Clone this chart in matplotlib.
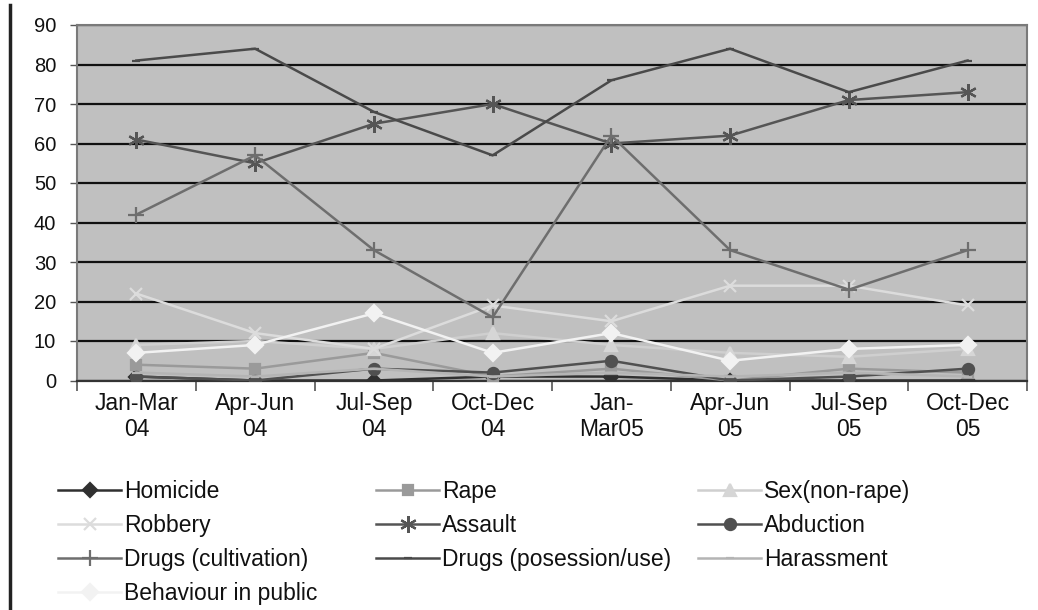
import matplotlib
matplotlib.use("Agg")
import matplotlib.pyplot as plt
from matplotlib.lines import Line2D

plt.rcParams['font.family'] = ['Liberation Sans', 'DejaVu Sans']

categories = ["Jan-Mar\n04", "Apr-Jun\n04", "Jul-Sep\n04", "Oct-Dec\n04",
              "Jan-\nMar05", "Apr-Jun\n05", "Jul-Sep\n05", "Oct-Dec\n05"]

homicide = [1, 0, 0, 1, 1, 0, 0, 0]
rape = [4, 3, 7, 1, 3, 0, 3, 2]
sex_non_rape = [9, 10, 8, 12, 9, 7, 6, 8]
robbery = [22, 12, 8, 19, 15, 24, 24, 19]
assault = [61, 55, 65, 70, 60, 62, 71, 73]
abduction = [1, 0, 3, 2, 5, 0, 1, 3]
drugs_cultivation = [42, 57, 33, 16, 62, 33, 23, 33]
drugs_possession = [81, 84, 68, 57, 76, 84, 73, 81]
harassment = [2, 1, 3, 1, 2, 1, 2, 1]
behaviour_public = [7, 9, 17, 7, 12, 5, 8, 9]

yticks = [0, 10, 20, 30, 40, 50, 60, 70, 80, 90]

W, H = 1038, 610
fig = plt.figure(figsize=(W / 100, H / 100), dpi=100)
ax = fig.add_axes([77 / W, 1 - 380.5 / H, (1027 - 77) / W, (380.5 - 25) / H])
ax.set_facecolor('#C0C0C0')

x = list(range(len(categories)))
series = [
    ("Homicide", homicide, '#303030', 'D', 7, '#303030'),
    ("Rape", rape, '#9A9A9A', 's', 7, '#9A9A9A'),
    ("Sex(non-rape)", sex_non_rape, '#CFCFCF', '^', 8, '#D6D6D6'),
    ("Robbery", robbery, '#DCDCDC', 'x', 9, '#DCDCDC'),
    ("Assault", assault, '#555555', (6, 2, 0), 12, '#555555'),
    ("Abduction", abduction, '#505050', 'o', 8, '#505050'),
    ("Drugs (cultivation)", drugs_cultivation, '#6E6E6E', '+', 12, '#6E6E6E'),
    ("Drugs (posession/use)", drugs_possession, '#4A4A4A', '_', 6, '#4A4A4A'),
    ("Harassment", harassment, '#B4B4B4', '_', 6, '#B4B4B4'),
    ("Behaviour in public", behaviour_public, '#F2F2F2', 'D', 8, '#F2F2F2'),
]

handles = {}
for name, vals, col, mk, ms, mcol in series:
    ln, = ax.plot(x, vals, color=col, lw=1.8, marker=mk, markersize=ms,
                  markerfacecolor=mcol, markeredgecolor=mcol, markeredgewidth=1.6,
                  label=name, zorder=3)
    handles[name] = ln

ax.set_xlim(-0.5, len(categories) - 0.5)
ax.set_ylim(0, 90)
ax.set_yticks(yticks)
ax.set_yticklabels([str(v) for v in yticks])
ax.yaxis.grid(True, color='#111111', lw=1.6, zorder=1)
ax.set_axisbelow(True)

ax.set_xticks([i - 0.5 for i in range(len(categories) + 1)], minor=False)
ax.set_xticklabels([])
ax.set_xticks(x, minor=True)
ax.set_xticklabels(categories, minor=True, linespacing=1.18)
ax.tick_params(axis='x', which='major', length=7, color='#555555', width=1.2, direction='out')
ax.tick_params(axis='x', which='minor', length=0, pad=8, labelsize=16.5, labelcolor='#111111')
ax.tick_params(axis='y', length=5, color='#555555', width=1.0, pad=10, labelsize=14.5, labelcolor='#111111')

for s in ['top', 'right', 'left']:
    ax.spines[s].set_color('#7A7A7A')
    ax.spines[s].set_linewidth(1.5)
ax.spines['bottom'].set_color('#333333')
ax.spines['bottom'].set_linewidth(1.6)

cols = [
    (58, ["Homicide", "Robbery", "Drugs (cultivation)", "Behaviour in public"]),
    (376, ["Rape", "Assault", "Drugs (posession/use)"]),
    (698, ["Sex(non-rape)", "Abduction", "Harassment"]),
]
for xpix, names in cols:
    fig.legend([handles[n] for n in names], names, loc='upper left',
               bbox_to_anchor=(xpix / W, 1 - 480 / H), frameon=False,
               fontsize=16.5, handlelength=2.75, handletextpad=0.12,
               labelspacing=0.48, borderpad=0, borderaxespad=0, labelcolor='#111111')

fig.add_artist(Line2D([10 / W, 10 / W], [0, 1 - 5 / H], transform=fig.transFigure,
                      color='#222222', lw=2.5))

fig.savefig("out.png", dpi=100)
